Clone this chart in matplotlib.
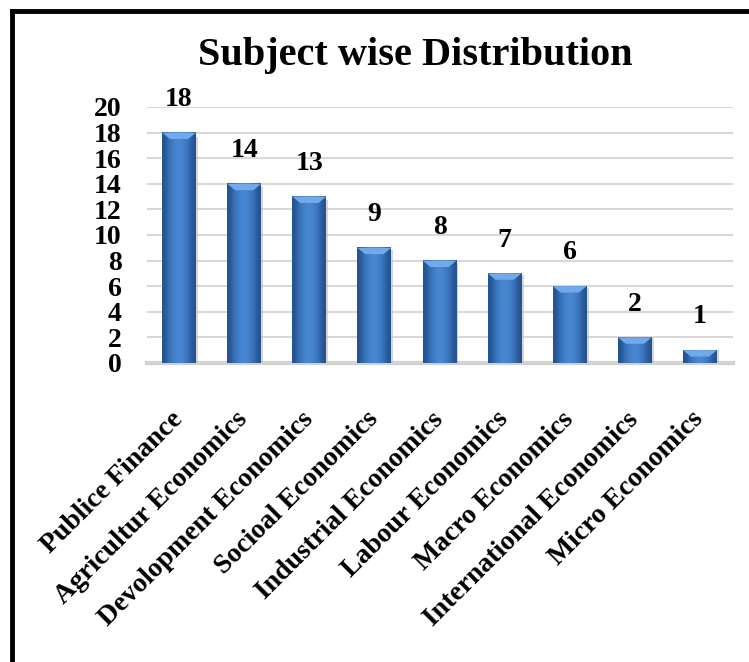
import matplotlib; matplotlib.use('Agg')
import matplotlib.pyplot as plt
import numpy as np
from matplotlib.patches import Polygon, Rectangle

subjects = ["Publice Finance", "Agricultur Economics", "Devolopment Economics",
            "Socioal Economics", "Industrial Economics", "Labour Economics",
            "Macro Economics", "International Economics", "Micro Economics"]
counts = [18, 14, 13, 9, 8, 7, 6, 2, 1]
yticks = list(range(0, 21, 2))

plt.rcParams['font.family'] = ['Liberation Serif', 'DejaVu Serif']
plt.rcParams['font.weight'] = 'bold'

fig = plt.figure(figsize=(7.49, 6.62), dpi=100)
ax = fig.add_axes([0.1956, 0.4517, 0.7824, 0.3867])

x = np.arange(len(subjects))
w = 0.52
bars = ax.bar(x, counts, width=w, color='#3D76C2', zorder=3)

# bevel look: horizontal gradient + lighter top facet
grad = np.array([[0.0, 0.55, 0.85, 1.0, 0.85, 0.55, 0.0]])
cmap = matplotlib.colors.LinearSegmentedColormap.from_list('b', ['#23528F', '#4A89D6'])
for b in bars:
    x0, h = b.get_x(), b.get_height()
    ax.imshow(grad, extent=[x0, x0 + w, 0, h], aspect='auto', cmap=cmap,
              interpolation='bicubic', zorder=4)
    bev = min(0.5, h * 0.5)
    ax.add_patch(Polygon([[x0, h], [x0 + w, h], [x0 + w - 0.12, h - bev], [x0 + 0.12, h - bev]],
                         closed=True, color='#72A9EA', zorder=5, lw=0))
    ax.add_patch(Rectangle((x0 + w, 0), 0.03, h * 0.98, color='#BBBBBB', alpha=0.6, zorder=2, lw=0))
    ax.annotate(str(h), (x0 + w / 2, h), xytext=(0, 15), textcoords='offset points',
                ha='center', va='bottom', fontsize=20, fontweight='bold', zorder=6)

ax.set_xlim(-0.5, len(subjects) - 0.5)
ax.set_ylim(0, 20)
ax.set_yticks(yticks)
ax.set_yticklabels([str(t) for t in yticks], fontsize=20, fontweight='bold')
ax.set_xticks(x)
ax.set_xticklabels(subjects, rotation=45, ha='right', va='center', rotation_mode='anchor',
                   fontsize=20, fontweight='bold')
ax.tick_params(axis='both', length=0)
ax.tick_params(axis='y', pad=18)
ax.tick_params(axis='x', pad=38)
ax.grid(axis='y', color='#D9D9D9', lw=1.5, zorder=0)
for s in ['left', 'right', 'top']:
    ax.spines[s].set_visible(False)
ax.spines['bottom'].set_color('#D0D0D0')
ax.spines['bottom'].set_linewidth(3)
ax.spines['bottom'].set_zorder(1)

fig.text(0.555, 0.902, "Subject wise Distribution", ha='center', va='baseline',
         fontsize=29, fontweight='bold')

# outer frame (cropped on right and bottom)
fig.add_artist(plt.Line2D([0.016, 0.016], [0, 0.984], color='black', lw=3.5,
                          transform=fig.transFigure))
fig.add_artist(plt.Line2D([0.016, 1.0], [0.984, 0.984], color='black', lw=3.5,
                          transform=fig.transFigure))

fig.savefig('out.png', dpi=100)
